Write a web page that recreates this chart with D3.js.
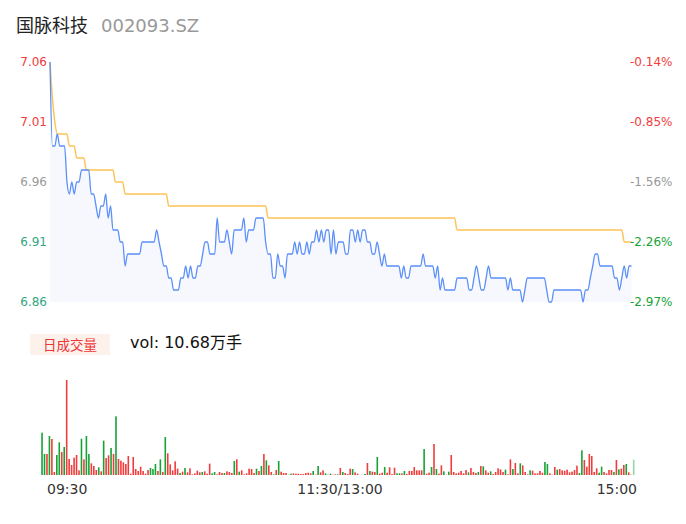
<!DOCTYPE html>
<html>
<head>
<meta charset="utf-8">
<script src="https://cdn.jsdelivr.net/npm/d3@7"></script>
<style>
  html, body { margin: 0; padding: 0; background: #fff; }
  svg { display: block; font-family: "DejaVu Sans", "Noto Sans CJK SC", sans-serif; }
</style>
</head>
<body>
<svg id="chart" width="686" height="524"></svg>
<script>
// ---- intraday data, one point per minute (09:30–11:30, 13:00–15:00) ----
const stockName = "国脉科技";
const stockCode = "002093.SZ";
const prevClose = 7.07;
const priceTicks = [7.06, 7.01, 6.96, 6.91, 6.86];
const timeLabels = ["09:30", "11:30/13:00", "15:00"];
const volumeBadge = "日成交量";
const volumeTotal = "vol: 10.68万手";

const price = [
  7.06, 6.99, 6.99, 7.00, 6.99, 6.99, 6.99, 6.96, 6.95, 6.96,
  6.95, 6.96, 6.96, 6.97, 6.97, 6.97, 6.97, 6.95, 6.95, 6.94,
  6.93, 6.94, 6.94, 6.95, 6.93, 6.94, 6.92, 6.92, 6.92, 6.91,
  6.91, 6.89, 6.90, 6.90, 6.90, 6.90, 6.90, 6.90, 6.91, 6.91,
  6.91, 6.91, 6.91, 6.91, 6.92, 6.91, 6.90, 6.89, 6.89, 6.88,
  6.88, 6.87, 6.87, 6.87, 6.88, 6.88, 6.89, 6.88, 6.89, 6.88,
  6.88, 6.89, 6.89, 6.90, 6.91, 6.91, 6.90, 6.90, 6.90, 6.93,
  6.91, 6.91, 6.91, 6.92, 6.91, 6.90, 6.92, 6.92, 6.92, 6.92,
  6.93, 6.91, 6.92, 6.92, 6.92, 6.93, 6.93, 6.93, 6.93, 6.91,
  6.90, 6.90, 6.88, 6.88, 6.90, 6.89, 6.89, 6.88, 6.90, 6.90,
  6.90, 6.91, 6.90, 6.91, 6.90, 6.90, 6.91, 6.90, 6.91, 6.91,
  6.92, 6.91, 6.92, 6.91, 6.92, 6.92, 6.90, 6.92, 6.90, 6.91,
  6.91, 6.91, 6.90, 6.90, 6.92, 6.92, 6.91, 6.92, 6.91, 6.92,
  6.92, 6.91, 6.91, 6.90, 6.90, 6.91, 6.90, 6.89, 6.90, 6.89,
  6.89, 6.89, 6.89, 6.89, 6.89, 6.88, 6.89, 6.88, 6.88, 6.89,
  6.89, 6.89, 6.89, 6.89, 6.90, 6.89, 6.89, 6.89, 6.89, 6.88,
  6.89, 6.87, 6.88, 6.87, 6.87, 6.87, 6.87, 6.87, 6.88, 6.88,
  6.88, 6.88, 6.88, 6.87, 6.87, 6.88, 6.89, 6.88, 6.87, 6.87,
  6.88, 6.89, 6.88, 6.88, 6.88, 6.88, 6.88, 6.88, 6.88, 6.87,
  6.88, 6.87, 6.87, 6.87, 6.87, 6.86, 6.87, 6.88, 6.88, 6.88,
  6.88, 6.88, 6.88, 6.88, 6.88, 6.87, 6.86, 6.86, 6.87, 6.87,
  6.87, 6.87, 6.87, 6.87, 6.87, 6.87, 6.87, 6.87, 6.87, 6.87,
  6.86, 6.87, 6.87, 6.88, 6.89, 6.90, 6.90, 6.89, 6.89, 6.89,
  6.89, 6.89, 6.89, 6.88, 6.88, 6.87, 6.88, 6.89, 6.88, 6.89,
  6.89
];

const avgPrice = [
  7.06, 7.03, 7.01, 7.00, 7.00, 7.00, 7.00, 7.00, 6.99, 6.99,
  6.99, 6.98, 6.98, 6.98, 6.98, 6.97, 6.97, 6.97, 6.97, 6.97,
  6.97, 6.97, 6.97, 6.97, 6.97, 6.97, 6.97, 6.96, 6.96, 6.96,
  6.96, 6.95, 6.95, 6.95, 6.95, 6.95, 6.95, 6.95, 6.95, 6.95,
  6.95, 6.95, 6.95, 6.95, 6.95, 6.95, 6.95, 6.95, 6.95, 6.94,
  6.94, 6.94, 6.94, 6.94, 6.94, 6.94, 6.94, 6.94, 6.94, 6.94,
  6.94, 6.94, 6.94, 6.94, 6.94, 6.94, 6.94, 6.94, 6.94, 6.94,
  6.94, 6.94, 6.94, 6.94, 6.94, 6.94, 6.94, 6.94, 6.94, 6.94,
  6.94, 6.94, 6.94, 6.94, 6.94, 6.94, 6.94, 6.94, 6.94, 6.94,
  6.93, 6.93, 6.93, 6.93, 6.93, 6.93, 6.93, 6.93, 6.93, 6.93,
  6.93, 6.93, 6.93, 6.93, 6.93, 6.93, 6.93, 6.93, 6.93, 6.93,
  6.93, 6.93, 6.93, 6.93, 6.93, 6.93, 6.93, 6.93, 6.93, 6.93,
  6.93, 6.93, 6.93, 6.93, 6.93, 6.93, 6.93, 6.93, 6.93, 6.93,
  6.93, 6.93, 6.93, 6.93, 6.93, 6.93, 6.93, 6.93, 6.93, 6.93,
  6.93, 6.93, 6.93, 6.93, 6.93, 6.93, 6.93, 6.93, 6.93, 6.93,
  6.93, 6.93, 6.93, 6.93, 6.93, 6.93, 6.93, 6.93, 6.93, 6.93,
  6.93, 6.93, 6.93, 6.93, 6.93, 6.93, 6.93, 6.93, 6.92, 6.92,
  6.92, 6.92, 6.92, 6.92, 6.92, 6.92, 6.92, 6.92, 6.92, 6.92,
  6.92, 6.92, 6.92, 6.92, 6.92, 6.92, 6.92, 6.92, 6.92, 6.92,
  6.92, 6.92, 6.92, 6.92, 6.92, 6.92, 6.92, 6.92, 6.92, 6.92,
  6.92, 6.92, 6.92, 6.92, 6.92, 6.92, 6.92, 6.92, 6.92, 6.92,
  6.92, 6.92, 6.92, 6.92, 6.92, 6.92, 6.92, 6.92, 6.92, 6.92,
  6.92, 6.92, 6.92, 6.92, 6.92, 6.92, 6.92, 6.92, 6.92, 6.92,
  6.92, 6.92, 6.92, 6.92, 6.92, 6.92, 6.92, 6.91, 6.91, 6.91,
  6.91
];

// per-minute volume (relative units) and tick direction: r = up, g = down, n = flat
const volume = [
  127, 63, 63, 117, 108, 9, 60, 98, 69, 84,
  285, 48, 30, 52, 60, 14, 109, 47, 117, 63,
  35, 27, 15, 23, 11, 103, 51, 59, 81, 63,
  176, 48, 43, 38, 33, 57, 4, 54, 18, 12,
  25, 12, 4, 15, 21, 18, 33, 12, 47, 9,
  114, 65, 32, 14, 41, 19, 6, 10, 21, 8,
  20, 2, 5, 13, 8, 9, 11, 4, 34, 5,
  9, 2, 9, 6, 6, 11, 9, 6, 42, 47,
  10, 14, 2, 5, 19, 18, 6, 19, 12, 27,
  63, 44, 29, 9, 2, 15, 42, 10, 6, 6,
  1, 4, 5, 4, 4, 3, 3, 6, 7, 5,
  12, 1, 27, 8, 14, 5, 1, 4, 1, 2,
  2, 21, 9, 6, 3, 19, 18, 8, 4, 1,
  1, 3, 36, 12, 10, 9, 54, 4, 7, 24,
  7, 23, 3, 22, 5, 5, 5, 12, 3, 12,
  12, 24, 14, 14, 14, 78, 4, 7, 24, 93,
  18, 4, 29, 11, 2, 10, 60, 9, 5, 7,
  12, 5, 15, 8, 21, 9, 6, 9, 27, 26,
  14, 7, 11, 3, 9, 20, 17, 9, 16, 2,
  47, 18, 36, 5, 35, 29, 9, 2, 14, 13,
  5, 5, 12, 7, 39, 33, 5, 1, 24, 16,
  18, 14, 13, 16, 8, 10, 15, 28, 6, 74,
  45, 25, 63, 57, 9, 20, 7, 25, 9, 5,
  15, 15, 9, 45, 17, 19, 30, 33, 8, 1,
  46
];
const volumeDir = (
  "ggrgrrggrg" + "rrrrrrgrgg" + "rrrgrgrrgr" + "grrrrrrrrr" +
  "rrrrgggrgr" + "grrrrrgrgr" + "rrrrrgrrrg" + "grrrgrrrgr" +
  "grrrrrrgrg" + "rgrrgrgrrr" + "ggrrrrrrrr" + "grgrrgrgrr" +
  "grgrrrgrrn" + "ngrgrrgrrg" + "rrrrggrgrr" + "rrrrrgrrgr" +
  "grrgngrrrr" + "rrrgrrrgrg" + "rrgrrrrrgr" + "rgrrgrrrgr" +
  "rrrrggrrrg" + "rrrrrrrrgg" + "rrrrrrggrr" + "rrgrgrrgrr" +
  "g"
).split("");

// ---- layout ----
const svg = d3.select("#chart");
const W = 686;
const plot = { left: 50, right: 631.5, top: 62, bottom: 302 };
const volPlot = { left: 40.8, right: 634.9, top: 380, bottom: 475 };

const colors = {
  up: "#f03c3c",
  down: "#16a336",
  flat: "#cfcfcf",
  neutral: "#999999",
  axisDown: "#33a582",
  line: "#5b8ff9",
  avg: "#fcc457",
  area: "#f6f8fe"
};

const n = price.length;
const x = d3.scaleLinear().domain([0, n - 1]).range([plot.left, plot.right]);
const y = d3.scaleLinear().domain([d3.min(priceTicks), d3.max(priceTicks)]).range([plot.bottom, plot.top]);

// ---- header ----
svg.append("text")
  .attr("x", 16).attr("y", 32)
  .attr("font-family", "'Noto Sans CJK SC', sans-serif")
  .attr("font-size", 18)
  .attr("fill", "#222")
  .text(stockName);
svg.append("text")
  .attr("x", 101).attr("y", 32)
  .attr("font-size", 18)
  .attr("fill", "#999")
  .text(stockCode);

// ---- price area, average line, price line ----
svg.append("path")
  .datum(price)
  .attr("fill", colors.area)
  .attr("d", d3.area()
    .x((d, i) => x(i))
    .y0(y(d3.min(priceTicks)))
    .y1(d => y(d))
    .curve(d3.curveMonotoneX));

svg.append("path")
  .datum(avgPrice)
  .attr("fill", "none")
  .attr("stroke", colors.avg)
  .attr("stroke-width", 1.5)
  .attr("d", d3.line()
    .x((d, i) => x(i))
    .y(d => y(d))
    .curve(d3.curveMonotoneX));

svg.append("path")
  .datum(price)
  .attr("fill", "none")
  .attr("stroke", colors.line)
  .attr("stroke-width", 1.3)
  .attr("d", d3.line()
    .x((d, i) => x(i))
    .y(d => y(d))
    .curve(d3.curveMonotoneX));

// ---- price axis labels (left) and change-from-close labels (right) ----
const mid = Math.floor(priceTicks.length / 2);
const tickColor = (i, side) => i < mid ? colors.up : i === mid ? colors.neutral : (side === "left" ? colors.axisDown : colors.down);

svg.append("g").selectAll("text")
  .data(priceTicks)
  .join("text")
  .attr("x", 47)
  .attr("y", d => y(d))
  .attr("dy", "0.35em")
  .attr("text-anchor", "end")
  .attr("font-size", 12)
  .attr("fill", (d, i) => tickColor(i, "left"))
  .text(d => d.toFixed(2));

svg.append("g").selectAll("text")
  .data(priceTicks)
  .join("text")
  .attr("x", 630)
  .attr("y", d => y(d))
  .attr("dy", "0.35em")
  .attr("text-anchor", "start")
  .attr("font-size", 12)
  .attr("fill", (d, i) => tickColor(i, "right"))
  .text(d => ((d - prevClose) / prevClose * 100).toFixed(2) + "%");

// ---- volume header ----
svg.append("rect")
  .attr("x", 30).attr("y", 334)
  .attr("width", 80).attr("height", 21)
  .attr("fill", "#fdf1ec");
svg.append("text")
  .attr("x", 70).attr("y", 349.5)
  .attr("text-anchor", "middle")
  .attr("font-family", "'Noto Sans CJK SC', sans-serif")
  .attr("font-size", 13.5)
  .attr("fill", "#ee3535")
  .text(volumeBadge);
svg.append("text")
  .attr("x", 130).attr("y", 348)
  .attr("font-size", 16)
  .attr("fill", "#111")
  .text(volumeTotal);

// ---- volume bars ----
const xv = d3.scaleBand().domain(d3.range(n)).range([volPlot.left, volPlot.right]);
const yv = d3.scaleLinear().domain([0, d3.max(volume)]).range([volPlot.bottom, volPlot.top]);
const barW = 1.6;

svg.append("g").selectAll("rect")
  .data(volume)
  .join("rect")
  .attr("x", (d, i) => xv(i) + xv.bandwidth() / 2 - barW / 2)
  .attr("y", d => yv(d))
  .attr("width", barW)
  .attr("height", d => yv(0) - yv(d))
  .attr("fill", (d, i) => volumeDir[i] === "r" ? colors.up : volumeDir[i] === "g" ? colors.down : colors.flat)
  .attr("opacity", (d, i) => i === n - 1 ? 0.45 : 1);

// ---- time axis ----
const timePos = [
  { x: 47, anchor: "start" },
  { x: 340, anchor: "middle" },
  { x: 637, anchor: "end" }
];
svg.append("g").selectAll("text")
  .data(timeLabels)
  .join("text")
  .attr("x", (d, i) => timePos[i].x)
  .attr("y", 494)
  .attr("text-anchor", (d, i) => timePos[i].anchor)
  .attr("font-size", 14)
  .attr("fill", "#333")
  .text(d => d);
</script>
</body>
</html>
